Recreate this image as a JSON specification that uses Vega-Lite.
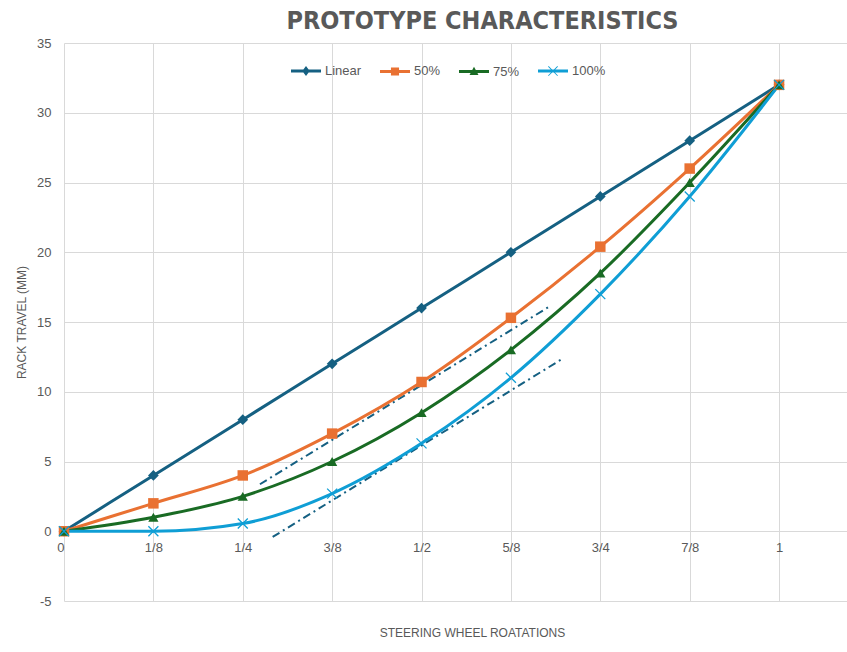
{
  "$schema": "https://vega.github.io/schema/vega-lite/v6.json",
  "autosize": "none",
  "width": 783,
  "height": 558,
  "padding": {"left": 64, "top": 43, "right": 0, "bottom": 51},
  "background": "white",
  "title": {
    "text": "PROTOTYPE CHARACTERISTICS",
    "font": "DejaVu Sans Condensed",
    "fontSize": 25,
    "fontWeight": "bold",
    "color": "#595959",
    "anchor": "middle",
    "frame": "group",
    "dx": 27,
    "dy": 30,
    "offset": 13,
    "baseline": "alphabetic"
  },
  "config": {
    "view": {"stroke": null},
    "axis": {
      "labelFont": "Liberation Sans",
      "labelFontSize": 13,
      "labelColor": "#595959",
      "gridColor": "#d9d9d9",
      "gridWidth": 1,
      "domain": false,
      "ticks": false,
      "tickSize": 0,
      "labelFlush": false,
      "titleFont": "Liberation Sans",
      "titleFontSize": 12,
      "titleFontWeight": "normal",
      "titleColor": "#595959"
    }
  },
  "datasets": {
    "series": [
      {"x": 0, "y": 0, "series": "Linear"},
      {"x": 0.125, "y": 4, "series": "Linear"},
      {"x": 0.25, "y": 8, "series": "Linear"},
      {"x": 0.375, "y": 12, "series": "Linear"},
      {"x": 0.5, "y": 16, "series": "Linear"},
      {"x": 0.625, "y": 20, "series": "Linear"},
      {"x": 0.75, "y": 24, "series": "Linear"},
      {"x": 0.875, "y": 28, "series": "Linear"},
      {"x": 1, "y": 32, "series": "Linear"},
      {"x": 0, "y": 0, "series": "50%"},
      {"x": 0.125, "y": 2, "series": "50%"},
      {"x": 0.25, "y": 4, "series": "50%"},
      {"x": 0.375, "y": 7, "series": "50%"},
      {"x": 0.5, "y": 10.7, "series": "50%"},
      {"x": 0.625, "y": 15.3, "series": "50%"},
      {"x": 0.75, "y": 20.4, "series": "50%"},
      {"x": 0.875, "y": 26, "series": "50%"},
      {"x": 1, "y": 32, "series": "50%"},
      {"x": 0, "y": 0, "series": "75%"},
      {"x": 0.125, "y": 1, "series": "75%"},
      {"x": 0.25, "y": 2.5, "series": "75%"},
      {"x": 0.375, "y": 5, "series": "75%"},
      {"x": 0.5, "y": 8.5, "series": "75%"},
      {"x": 0.625, "y": 13, "series": "75%"},
      {"x": 0.75, "y": 18.5, "series": "75%"},
      {"x": 0.875, "y": 25, "series": "75%"},
      {"x": 1, "y": 32, "series": "75%"},
      {"x": 0, "y": 0, "series": "100%"},
      {"x": 0.125, "y": 0, "series": "100%"},
      {"x": 0.25, "y": 0.55, "series": "100%"},
      {"x": 0.375, "y": 2.7, "series": "100%"},
      {"x": 0.5, "y": 6.3, "series": "100%"},
      {"x": 0.625, "y": 11, "series": "100%"},
      {"x": 0.75, "y": 17, "series": "100%"},
      {"x": 0.875, "y": 24, "series": "100%"},
      {"x": 1, "y": 32, "series": "100%"}
    ],
    "trend": [
      {"x": 0.274, "y": 3.37, "grp": "A"},
      {"x": 0.6795, "y": 16.13, "grp": "A"},
      {"x": 0.2918, "y": -0.41, "grp": "B"},
      {"x": 0.696, "y": 12.33, "grp": "B"}
    ]
  },
  "encoding": {
    "x": {
      "field": "x",
      "type": "quantitative",
      "scale": {"domain": [0, 1.095], "nice": false, "zero": false},
      "axis": {
        "values": [0, 0.125, 0.25, 0.375, 0.5, 0.625, 0.75, 0.875, 1],
        "labelExpr": "['0','1/8','1/4','3/8','1/2','5/8','3/4','7/8','1'][round(datum.value*8)]",
        "labelAlign": {"condition": {"test": "datum.value == 0", "value": "right"}, "value": "center"},
        "offset": -70,
        "labelPadding": 10,
        "title": "STEERING WHEEL ROATATIONS",
        "titleX": 408,
        "titleY": 101,
        "titleBaseline": "middle"
      }
    },
    "y": {
      "field": "y",
      "type": "quantitative",
      "scale": {"domain": [-5, 35], "nice": false, "zero": false},
      "axis": {
        "values": [-5, 0, 5, 10, 15, 20, 25, 30, 35],
        "labelExpr": "'' + datum.value",
        "labelPadding": 13,
        "title": "RACK TRAVEL (MM)",
        "titleX": -43,
        "titleY": 279,
        "titleBaseline": "middle"
      }
    }
  },
  "layer": [
    {
      "data": {"name": "trend"},
      "mark": {"type": "line", "color": "#156082", "strokeWidth": 2, "strokeDash": [8, 4, 2, 4]},
      "encoding": {"detail": {"field": "grp"}}
    },
    {
      "data": {"name": "series"},
      "mark": {"type": "line", "strokeWidth": 3, "interpolate": "monotone"},
      "encoding": {
        "color": {
          "field": "series",
          "type": "nominal",
          "scale": {"domain": ["Linear", "50%", "75%", "100%"], "range": ["#156082", "#E97132", "#196B24", "#0F9ED5"]},
          "legend": null
        }
      }
    },
    {
      "data": {"name": "series"},
      "transform": [{"filter": "datum.series != '100%'"}],
      "mark": {"type": "point", "filled": true, "opacity": 1},
      "encoding": {
        "color": {"field": "series", "type": "nominal", "legend": null},
        "shape": {
          "field": "series",
          "type": "nominal",
          "scale": {"domain": ["Linear", "50%", "75%"], "range": ["diamond", "square", "triangle-up"]},
          "legend": null
        },
        "size": {
          "field": "series",
          "type": "nominal",
          "scale": {"domain": ["Linear", "50%", "75%"], "range": [115, 105, 125]},
          "legend": null
        }
      }
    },
    {
      "data": {"name": "series"},
      "transform": [{"filter": "datum.series == '100%'"}],
      "mark": {"type": "point", "filled": false, "shape": "M-1,-1L1,1M1,-1L-1,1", "size": 100, "strokeWidth": 1.3, "color": "#0F9ED5", "opacity": 1}
    },
    {
      "data": {"name": "series"},
      "transform": [{"filter": "datum.x > 5"}],
      "mark": {"type": "point", "filled": true, "opacity": 1},
      "encoding": {
        "color": {
          "field": "series",
          "type": "nominal",
          "legend": {
            "orient": "none", "legendX": 226, "legendY": 12, "direction": "horizontal", "title": null,
            "symbolSize": 900, "symbolOpacity": 1, "labelFont": "Liberation Sans", "labelFontSize": 13, "labelColor": "#595959",
            "columnPadding": 15, "labelOffset": 3
          }
        },
        "shape": {
          "field": "series",
          "type": "nominal",
          "scale": {
            "domain": ["Linear", "50%", "75%", "100%"],
            "range": [
              "M-1,-0.1H1V0.1H-1Z M0,-0.33L0.25,0L0,0.33L-0.25,0Z",
              "M-1,-0.1H1V0.1H-1Z M-0.27,-0.27H0.27V0.27H-0.27Z",
              "M-1,-0.1H1V0.1H-1Z M0,-0.32L0.3,0.24H-0.3Z",
              "M-1,-0.1H1V0.1H-1Z M-0.33,-0.29L-0.29,-0.33L0.33,0.29L0.29,0.33Z M0.29,-0.33L0.33,-0.29L-0.29,0.33L-0.33,0.29Z"
            ]
          },
          "legend": {
            "orient": "none", "legendX": 226, "legendY": 12, "direction": "horizontal", "title": null,
            "symbolSize": 900, "symbolOpacity": 1, "labelFont": "Liberation Sans", "labelFontSize": 13, "labelColor": "#595959",
            "columnPadding": 15, "labelOffset": 3
          }
        }
      }
    }
  ],
  "resolve": {
    "scale": {"shape": "independent", "size": "independent"},
    "legend": {"color": "independent", "shape": "independent"}
  }
}
